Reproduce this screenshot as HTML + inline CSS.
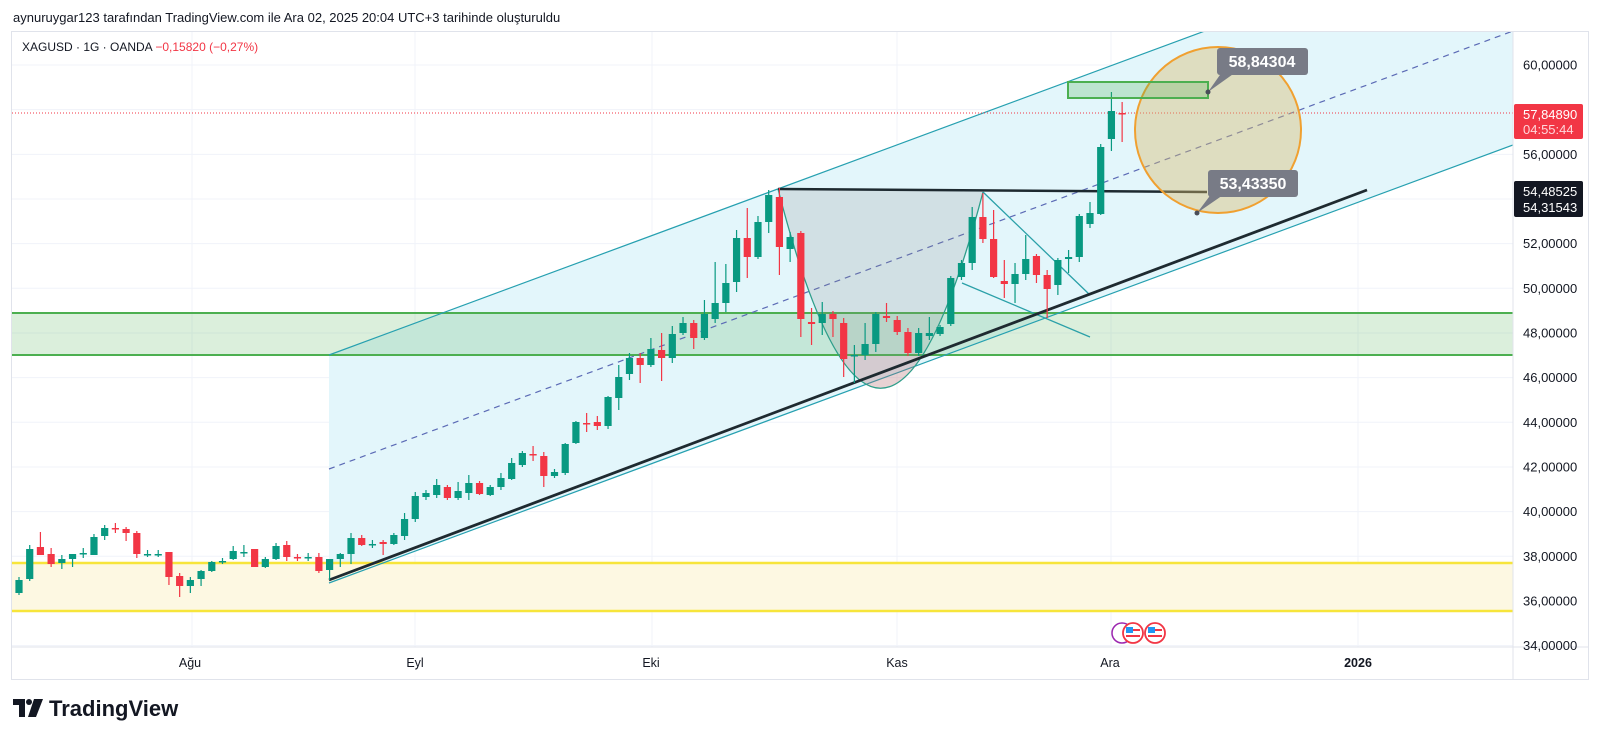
<!DOCTYPE html>
<html><head><meta charset="utf-8"><style>
html,body{margin:0;padding:0;background:#fff;width:1600px;height:745px;overflow:hidden;font-family:"Liberation Sans",sans-serif;}
svg{display:block}
</style></head><body>
<svg id="s" width="1600" height="745" viewBox="0 0 1600 745" xmlns="http://www.w3.org/2000/svg" font-family="Liberation Sans, sans-serif">
<defs>
<clipPath id="plot"><rect x="12" y="32" width="1501" height="615"/></clipPath>
<clipPath id="lowc"><rect x="700" y="356" width="400" height="100"/></clipPath>
</defs>
<rect x="0" y="0" width="1600" height="745" fill="#fff"/>
<text x="13" y="22" font-size="13" fill="#131722">aynuruygar123 tarafından TradingView.com ile Ara 02, 2025 20:04 UTC+3 tarihinde oluşturuldu</text>
<rect x="11.5" y="31.5" width="1577" height="648" fill="#fff" stroke="#e0e3eb"/>
<g id="grid" stroke="#f0f3fa" stroke-width="1"></g>
<g clip-path="url(#plot)">
 <polygon points="329,355 1513,-83 1513,145 329,583" fill="#e3f6fb"/>
 <rect x="12" y="563" width="1501" height="48" fill="#fdf8e2"/>
 <line x1="12" y1="563" x2="1513" y2="563" stroke="#f7e53b" stroke-width="2.5"/>
 <line x1="12" y1="611" x2="1513" y2="611" stroke="#f7e53b" stroke-width="2.5"/>
 <rect x="12" y="313" width="1501" height="42" fill="rgba(76,175,80,0.2)"/>
 <line x1="12" y1="313" x2="1513" y2="313" stroke="#4caf50" stroke-width="2"/>
 <line x1="12" y1="355" x2="1513" y2="355" stroke="#4caf50" stroke-width="2"/>
 <line x1="329" y1="355" x2="1513" y2="-83" stroke="#26a0b0" stroke-width="1.2"/>
 <line x1="329" y1="583" x2="1513" y2="145" stroke="#26a0b0" stroke-width="1.2"/>
 <line x1="329" y1="469" x2="1513" y2="31" stroke="#5b6ab5" stroke-width="1.2" stroke-dasharray="6,5"/>
 <path d="M778,189 Q880,586 983,192 Z" fill="rgba(140,140,140,0.2)"/>
 <path d="M778,189 Q880,586 983,192 Z" fill="rgba(242,54,69,0.12)" clip-path="url(#lowc)"/>
 <path d="M778,189 Q880,586 983,192" fill="none" stroke="#2e9e8a" stroke-width="1.3"/>
 <line x1="778" y1="189" x2="1207" y2="192" stroke="#1e2a30" stroke-width="2.5"/>
 <line x1="983" y1="192" x2="1090" y2="295" stroke="#2aa0a8" stroke-width="1.3"/>
 <line x1="962" y1="283" x2="1090" y2="337" stroke="#2aa0a8" stroke-width="1.3"/>
 <line x1="329" y1="580" x2="1367" y2="190" stroke="#1e2a30" stroke-width="2.8"/>
 <line x1="12" y1="113" x2="1513" y2="113" stroke="#f23645" stroke-width="1" stroke-dasharray="1,2"/>
 <g id="candles"></g>
 <circle cx="1218" cy="130" r="83" fill="rgba(215,185,110,0.42)" stroke="#f0a030" stroke-width="2"/>
 <rect x="1068" y="82" width="140" height="16" fill="rgba(76,175,80,0.25)" stroke="#4caf50" stroke-width="2"/>
 <polygon points="1208,92 1222,72 1236,72" fill="#787b86"/>
 <rect x="1217" y="48" width="91" height="27" rx="3" fill="#787b86"/>
 <text x="1262" y="67" font-size="16" font-weight="bold" fill="#fff" text-anchor="middle">58,84304</text>
 <circle cx="1208" cy="92" r="2.5" fill="#4a4e59"/>
 <polygon points="1197,213 1212,193 1226,193" fill="#787b86"/>
 <rect x="1208" y="170" width="90" height="27" rx="3" fill="#787b86"/>
 <text x="1253" y="189" font-size="16" font-weight="bold" fill="#fff" text-anchor="middle">53,43350</text>
 <circle cx="1197" cy="213" r="2.5" fill="#4a4e59"/>
 <circle cx="1122" cy="633" r="10" fill="#fff" stroke="#9c27b0" stroke-width="1.5"/>
 <circle cx="1133" cy="633" r="10" fill="#fff" stroke="#f23645" stroke-width="1.8"/>
 <rect x="1126" y="627" width="7" height="6" fill="#2196f3"/><rect x="1126" y="635" width="14" height="2" fill="#f23645"/><rect x="1133" y="629" width="7" height="2" fill="#f23645"/>
 <circle cx="1155" cy="633" r="10" fill="#fff" stroke="#f23645" stroke-width="1.8"/>
 <rect x="1148" y="627" width="7" height="6" fill="#2196f3"/><rect x="1148" y="635" width="14" height="2" fill="#f23645"/><rect x="1155" y="629" width="7" height="2" fill="#f23645"/>
</g>
<line x1="1513" y1="32" x2="1513" y2="679" stroke="#e0e3eb"/>
<line x1="12" y1="647" x2="1588" y2="647" stroke="#e0e3eb"/>
<g id="yl" font-size="13" fill="#131722"></g>
<g font-size="12.5" fill="#131722" text-anchor="middle">
 <text x="190" y="667">Ağu</text><text x="415" y="667">Eyl</text><text x="651" y="667">Eki</text>
 <text x="897" y="667">Kas</text><text x="1110" y="667">Ara</text><text x="1358" y="667" font-weight="bold">2026</text>
</g>
<rect x="1514" y="104" width="69" height="35" rx="2" fill="#f23645"/>
<text x="1523" y="119" font-size="13" fill="#fff">57,84890</text>
<text x="1523" y="134" font-size="13" fill="#ffd6da">04:55:44</text>
<rect x="1514" y="181" width="69" height="36" rx="2" fill="#131722"/>
<text x="1523" y="196" font-size="13" fill="#fff">54,48525</text>
<text x="1523" y="212" font-size="13" fill="#fff">54,31543</text>
<text x="22" y="51" font-size="12" fill="#131722">XAGUSD · 1G · OANDA <tspan fill="#f23645">−0,15820 (−0,27%)</tspan></text>
<g transform="translate(13,697)">
 <path d="M0,2 H12 V20 H6 V8 H0 Z" fill="#131722"/>
 <circle cx="16" cy="5" r="3" fill="#131722"/>
 <path d="M21,2 H30 L23,20 H15 Z" fill="#131722"/>
 <text x="36" y="19" font-size="22" font-weight="bold" fill="#131722">TradingView</text>
</g>
</svg>
<script>
var NS="http://www.w3.org/2000/svg";
function el(t,a,p){var e=document.createElementNS(NS,t);for(var k in a)e.setAttribute(k,a[k]);p.appendChild(e);return e;}
var grid=document.getElementById('grid'),yl=document.getElementById('yl');
function yp(p){return 65+(60-p)*22.33;}
for(var p=34;p<=60;p+=2){var y=yp(p);el('line',{x1:12,y1:y,x2:1513,y2:y},grid);
 if(p==58||p==54)continue;
 var t=el('text',{x:1523,y:y+4.5},yl);t.textContent=p+",00000";}
[192,415,652,897,1111,1358].forEach(function(x){el('line',{x1:x,y1:32,x2:x,y2:647},grid);});
var D=[
[0,'g',580,593,577,595],[1,'g',549,579,545,581],[2,'r',547,555,532,555],[3,'r',554,564,548,567],[4,'g',559,563,555,569],
[5,'g',554,559,554,567],[6,'g',553,554,548,558],[7,'g',537,555,534,555],[8,'g',528,536,525,540],[9,'r',528,529,523,533],
[10,'r',529,533,527,541],[11,'r',533,554,531,558],[12,'g',554,555,550,557],[13,'g',554,555,550,557],[14,'r',552,577,552,585],
[15,'r',576,586,573,597],[16,'g',580,586,577,593],[17,'g',571,579,570,586],[18,'g',562,571,561,572],[19,'g',561,562,558,564],
[20,'g',551,559,546,560],[21,'g',552,553,545,557],[22,'r',549,567,549,567],[23,'g',559,567,557,568],[24,'g',546,559,543,560],
[25,'r',545,557,541,561],[26,'r',557,558,554,561],[27,'g',557,558,553,561],[28,'r',557,571,553,573],[29,'g',559,570,559,580],
[30,'g',554,559,553,567],[31,'g',538,554,533,564],[32,'r',538,545,535,546],[33,'g',544,545,540,548],[34,'r',542,544,540,555],
[35,'g',535,544,533,545],[36,'g',519,536,513,540],[37,'g',496,519,492,522],
[38,'g',493,497,490,500],[39,'g',485,495,479,498],[40,'r',487,498,485,500],[41,'g',491,498,482,500],[42,'g',483,493,475,500],
[43,'r',483,494,481,495],[44,'g',487,495,485,496],[45,'g',478,487,473,490],[46,'g',463,479,458,480],[47,'g',453,465,451,467],
[48,'r',454,455,446,461],[49,'r',456,476,452,487],[50,'g',472,476,469,478],[51,'g',444,473,443,475],[52,'g',422,443,421,444],
[53,'r',423,424,413,432],[54,'r',422,426,416,430],[55,'g',397,426,396,429],[56,'g',377,398,365,410],[57,'g',358,374,353,380],
[58,'r',358,365,353,383],[59,'g',349,365,338,367],[60,'r',350,358,333,381],[61,'g',334,358,326,363],[62,'g',323,333,317,335],
[63,'r',323,338,320,349],[64,'g',314,338,300,340],[65,'g',303,319,262,323],[66,'g',283,303,264,312],
[67,'g',238,282,230,292],[68,'r',238,257,208,278],[69,'g',222,257,216,259],[70,'g',195,222,190,233],[71,'r',197,247,188,275],
[72,'g',237,249,232,262],[73,'r',233,319,231,337],[74,'r',322,324,308,345],[75,'g',314,323,302,335],[76,'r',314,319,311,337],
[77,'r',323,359,318,377],[78,'g',355,356,345,383],[79,'g',344,355,323,360],[80,'g',314,344,312,352],[81,'r',316,318,303,322],
[82,'r',320,332,316,335],[83,'r',332,353,328,356],[84,'g',333,353,328,356],[85,'g',333,336,317,340],[86,'g',327,334,325,336],
[87,'g',278,324,276,326],[88,'g',263,277,260,280],[89,'g',217,263,207,270],[90,'r',217,239,193,243],[91,'r',239,277,210,278],
[92,'r',281,284,260,298],[93,'g',274,284,263,303],[94,'g',259,274,235,280],[95,'r',256,275,254,283],[96,'r',275,289,270,318],
[97,'g',260,285,258,295],[98,'g',257,259,250,273],[99,'g',216,257,214,262],[100,'g',213,224,202,228],[101,'g',147,214,144,215],
[102,'g',111,139,92,151],[103,'r',113,114,102,142]];
var cg=document.getElementById('candles');
D.forEach(function(d){var x=19+d[0]*10.71;var c=d[1]=='g'?'#089981':'#f23645';
 el('line',{x1:x,y1:d[4],x2:x,y2:d[5],stroke:c,'stroke-width':1.2},cg);
 var h=Math.max(1.5,d[3]-d[2]);el('rect',{x:x-3.6,y:d[2],width:7.2,height:h,fill:c},cg);});
</script>
</body></html>
